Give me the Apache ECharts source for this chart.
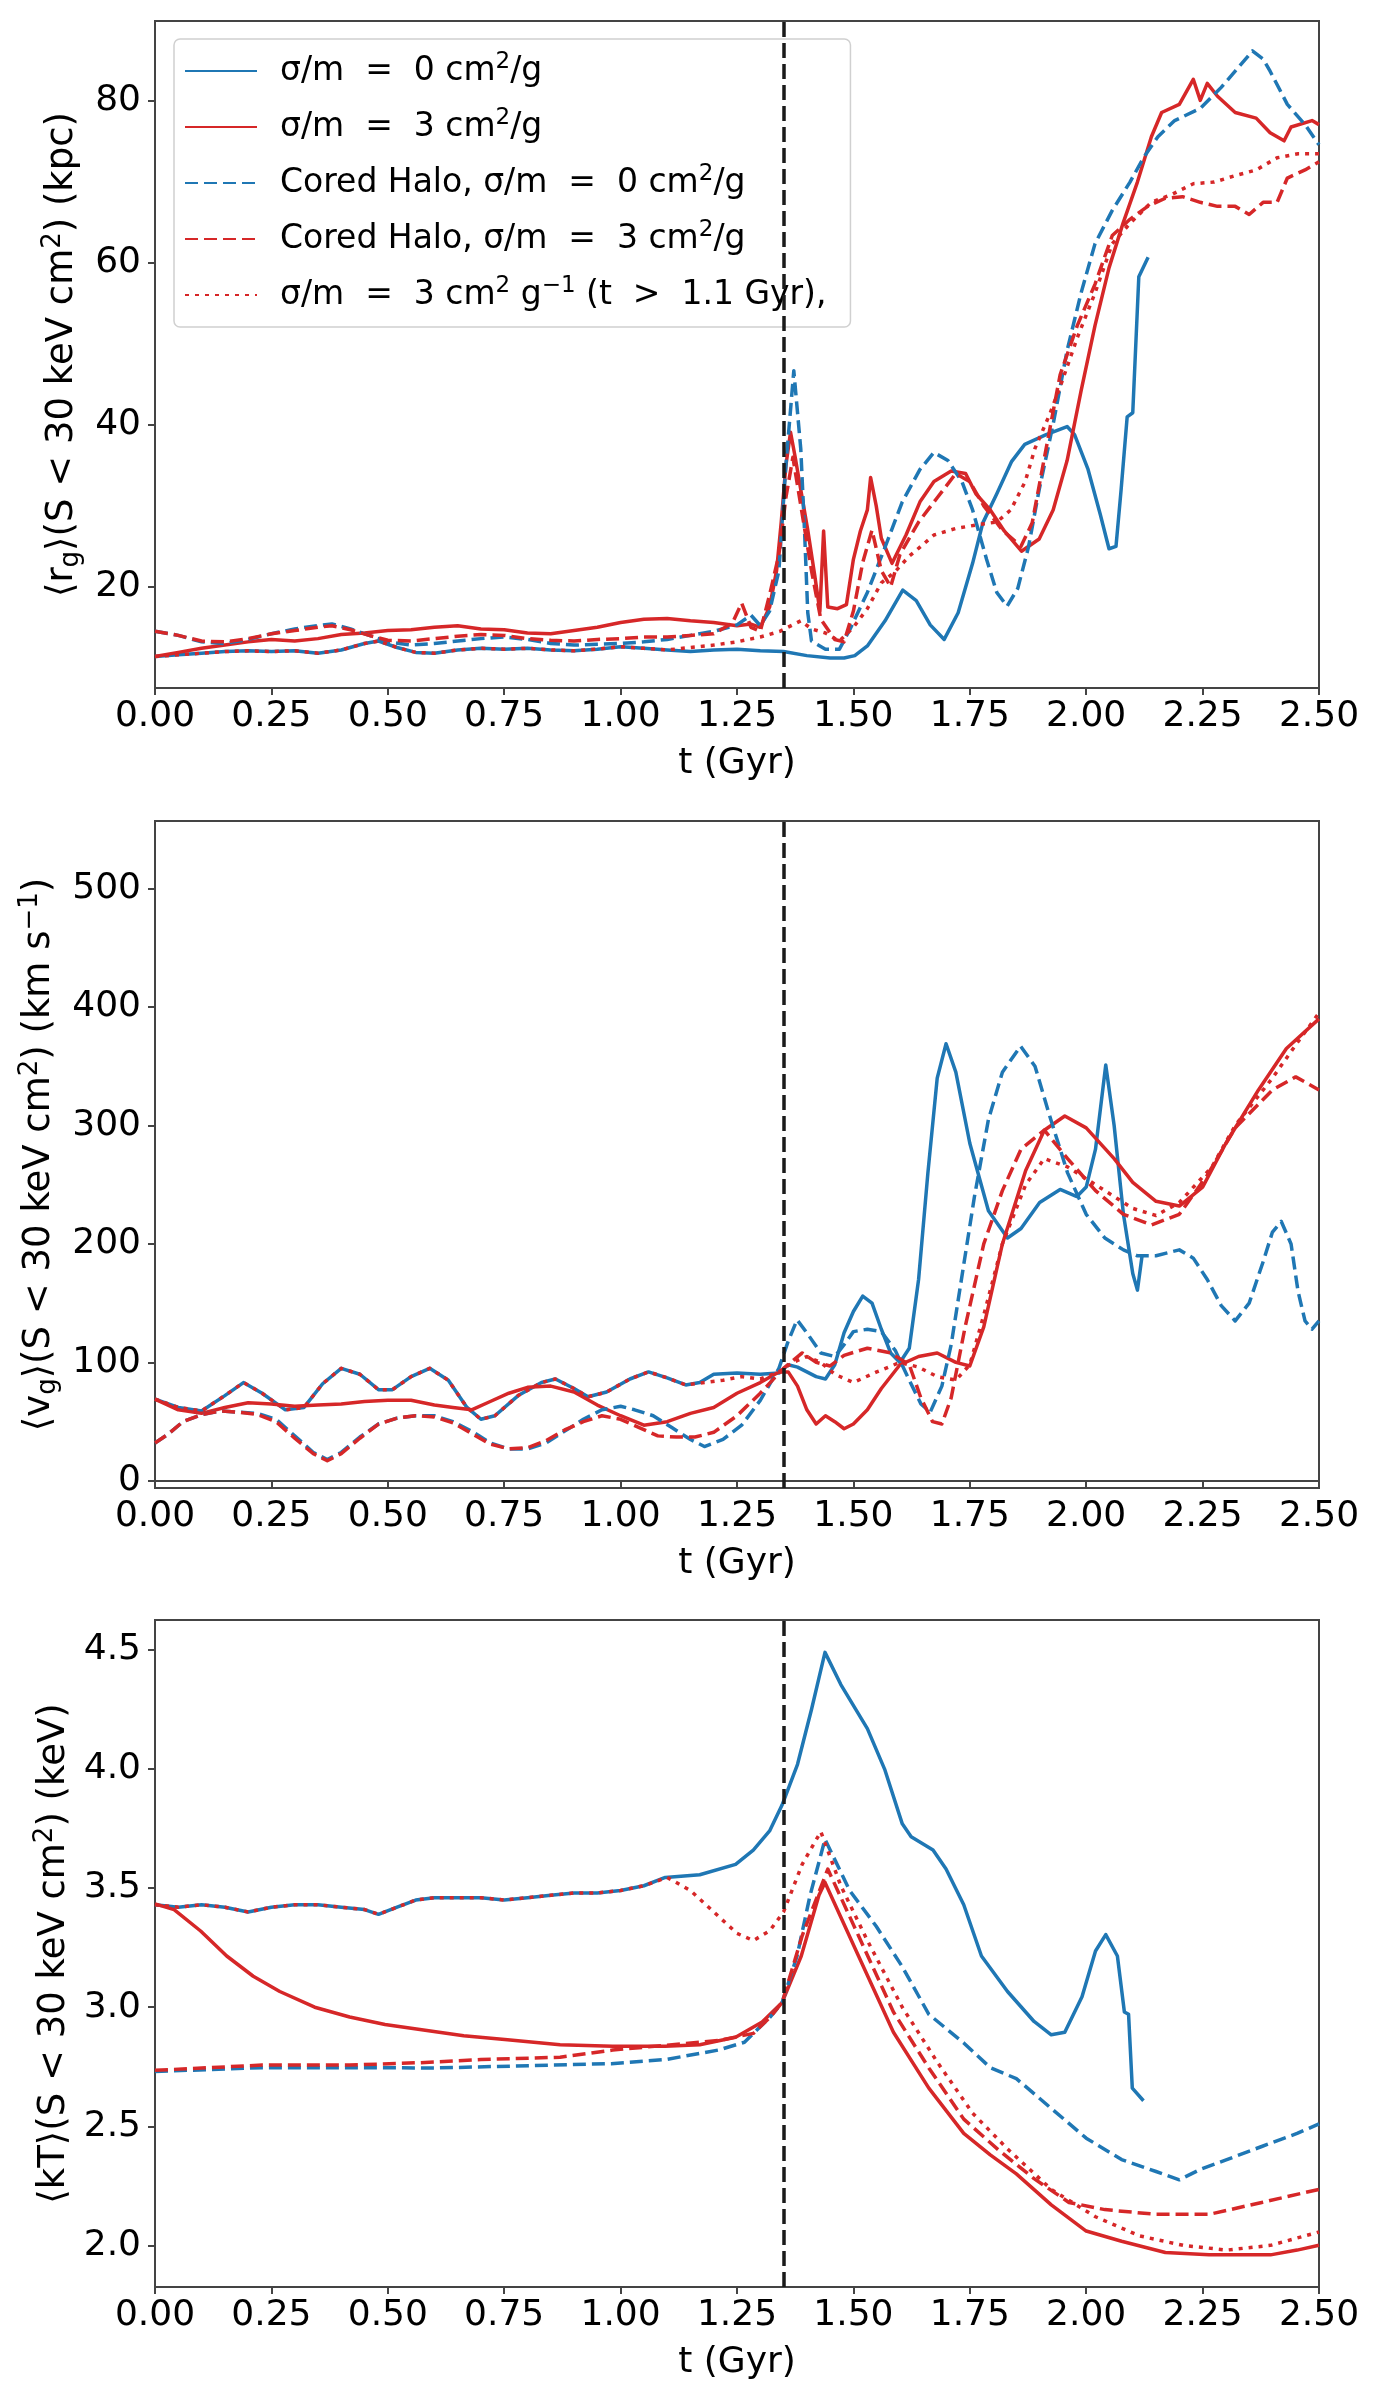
<!DOCTYPE html>
<html>
<head>
<meta charset="utf-8">
<script src="https://cdn.jsdelivr.net/npm/echarts@6/dist/echarts.min.js"></script>
<style>
html,body{margin:0;padding:0;background:#fff;}
#c{width:1375px;height:2396px;}
</style>
</head>
<body>
<div id="c"></div>
<script>
// ---------- DATA ----------
const X_TICK_STEP = 0.25;
const RG_TICKS = [20, 40, 60, 80];
const VG_TICKS = [0, 100, 200, 300, 400, 500];
const KT_TICKS = [2.0, 2.5, 3.0, 3.5, 4.0, 4.5];
const T_CORE_PASSAGE = 1.35;

const NAMES = ['s0', 's3', 'd0', 'd3', 'dot'];

// Panel 1: <r_g> (kpc)
const rg_s0 = [[0,11.4],[0.05,11.6],[0.1,11.8],[0.15,12.0],[0.2,12.1],[0.25,12.0],[0.3,12.1],[0.35,11.8],[0.4,12.2],[0.45,13.0],[0.48,13.3],[0.52,12.5],[0.56,11.9],[0.6,11.8],[0.65,12.2],[0.7,12.4],[0.75,12.3],[0.8,12.4],[0.85,12.2],[0.9,12.1],[0.95,12.3],[1.0,12.6],[1.05,12.4],[1.1,12.2],[1.15,12.0],[1.2,12.2],[1.25,12.3],[1.3,12.1],[1.35,12.0],[1.4,11.5],[1.45,11.2],[1.48,11.2],[1.503,11.5],[1.53,12.7],[1.568,15.8],[1.606,19.6],[1.635,18.3],[1.665,15.3],[1.695,13.5],[1.725,16.8],[1.756,22.9],[1.778,27.9],[1.808,31.5],[1.84,35.5],[1.868,37.6],[1.914,38.8],[1.959,39.8],[1.975,38.8],[2.004,34.5],[2.03,29],[2.049,24.7],[2.064,25],[2.075,32],[2.088,41],[2.1,41.5],[2.113,58.3],[2.133,60.7]];
const rg_s3 = [[0,11.4],[0.05,11.9],[0.1,12.4],[0.15,12.8],[0.2,13.2],[0.25,13.5],[0.3,13.3],[0.35,13.6],[0.4,14.1],[0.45,14.3],[0.5,14.6],[0.55,14.7],[0.6,15.0],[0.65,15.2],[0.7,14.8],[0.75,14.7],[0.8,14.3],[0.85,14.2],[0.9,14.6],[0.95,15.0],[1.0,15.6],[1.05,16.0],[1.1,16.1],[1.15,15.8],[1.2,15.6],[1.25,15.2],[1.28,15.4],[1.3,15.0],[1.32,17.5],[1.335,22],[1.345,28],[1.355,35],[1.365,39.1],[1.375,36],[1.387,32],[1.402,27],[1.417,21.4],[1.428,17],[1.436,26.9],[1.445,17.5],[1.466,17.3],[1.485,17.8],[1.5,23.4],[1.515,26.9],[1.53,29.5],[1.537,33.5],[1.549,30],[1.56,26],[1.583,22.9],[1.613,26.4],[1.643,30.5],[1.673,33],[1.71,34.3],[1.741,34],[1.763,31.5],[1.794,29.5],[1.824,26.9],[1.861,24.4],[1.899,25.9],[1.929,29.5],[1.959,35.6],[1.989,44.2],[2.019,52.3],[2.049,59.4],[2.079,64.9],[2.11,70],[2.14,75.6],[2.162,78.6],[2.2,79.6],[2.23,82.7],[2.245,80.1],[2.26,82.2],[2.282,80.6],[2.32,78.6],[2.365,77.9],[2.395,76.1],[2.425,75.1],[2.44,76.8],[2.485,77.6],[2.5,77.1]];
const rg_d0 = [[0,14.5],[0.05,14.0],[0.1,13.2],[0.15,13.0],[0.2,13.5],[0.25,14.2],[0.3,14.8],[0.35,15.2],[0.38,15.4],[0.42,14.8],[0.46,14.0],[0.5,13.2],[0.55,12.8],[0.6,13.0],[0.65,13.3],[0.7,13.6],[0.75,13.8],[0.8,13.5],[0.85,13.0],[0.9,12.8],[0.95,12.9],[1.0,13.0],[1.05,13.2],[1.1,13.5],[1.15,14.0],[1.2,14.5],[1.25,15.3],[1.28,16.5],[1.3,15.2],[1.32,17],[1.34,22],[1.355,35],[1.372,46.7],[1.387,37],[1.395,27],[1.402,16.8],[1.41,13.3],[1.44,12.3],[1.47,12.3],[1.493,14.8],[1.53,19.3],[1.568,24.9],[1.605,30.5],[1.643,34.5],[1.673,36.6],[1.703,35.6],[1.733,33],[1.756,29.5],[1.786,23.4],[1.808,19.3],[1.83,17.6],[1.853,19.8],[1.876,24.9],[1.899,32],[1.929,40.1],[1.959,49.2],[1.989,56.3],[2.019,62.4],[2.056,66.5],[2.094,70],[2.124,73.1],[2.154,75.6],[2.19,77.6],[2.245,79.1],[2.29,81.7],[2.32,83.7],[2.357,86.2],[2.38,85.2],[2.395,83.7],[2.432,79.6],[2.47,77.1],[2.5,74.6]];
const rg_d3 = [[0,14.5],[0.05,14.0],[0.1,13.3],[0.15,13.2],[0.2,13.6],[0.25,14.2],[0.3,14.6],[0.35,15.0],[0.38,15.2],[0.42,14.7],[0.46,14.0],[0.5,13.4],[0.55,13.3],[0.6,13.6],[0.65,13.9],[0.7,14.1],[0.75,14.0],[0.8,13.6],[0.85,13.4],[0.9,13.3],[0.95,13.5],[1.0,13.6],[1.05,13.8],[1.1,13.8],[1.15,14.0],[1.2,14.2],[1.24,15.5],[1.26,18],[1.28,15],[1.3,14.5],[1.32,19],[1.34,24],[1.355,31],[1.37,36],[1.39,29],[1.41,22],[1.43,16],[1.46,13.5],[1.48,13.2],[1.5,17],[1.52,23],[1.54,27],[1.56,22],[1.58,20],[1.6,24],[1.64,28],[1.68,31],[1.72,34],[1.75,33],[1.78,30],[1.82,27],[1.86,25],[1.884,27.9],[1.914,37.1],[1.944,46.2],[1.981,52.3],[2.019,57.4],[2.056,63.4],[2.094,65.4],[2.132,67.0],[2.17,68.0],[2.207,68.2],[2.245,67.5],[2.282,67.0],[2.32,67.0],[2.35,66.0],[2.38,67.5],[2.41,67.5],[2.432,70.5],[2.47,71.5],[2.5,72.5]];
const rg_dot = [[0,11.4],[0.05,11.6],[0.1,11.8],[0.15,12.0],[0.2,12.1],[0.25,12.0],[0.3,12.1],[0.35,11.8],[0.4,12.2],[0.45,13.0],[0.48,13.3],[0.52,12.5],[0.56,11.9],[0.6,11.8],[0.65,12.2],[0.7,12.4],[0.75,12.3],[0.8,12.4],[0.85,12.2],[0.9,12.1],[0.95,12.3],[1.0,12.6],[1.05,12.4],[1.1,12.2],[1.15,12.5],[1.2,12.8],[1.25,13.2],[1.3,13.8],[1.342,14.5],[1.387,15.8],[1.41,14.8],[1.44,14.3],[1.47,13.3],[1.5,15.0],[1.53,17.3],[1.56,20.5],[1.59,21.9],[1.62,23.8],[1.643,24.9],[1.673,26.4],[1.719,27.2],[1.77,27.7],[1.808,28.0],[1.838,29.5],[1.869,33.0],[1.89,37.1],[1.92,41.1],[1.944,44.7],[1.981,50.8],[2.019,56.3],[2.056,62.4],[2.094,64.9],[2.14,67.5],[2.185,68.5],[2.23,69.8],[2.275,70],[2.32,70.8],[2.365,71.5],[2.41,73.0],[2.455,73.5],[2.5,73.5]];

// Panel 2: <v_g> (km/s)
const vg_s0 = [[0,69],[0.05,62],[0.1,59],[0.15,72],[0.19,83],[0.23,74],[0.28,60],[0.32,62],[0.36,82],[0.4,95],[0.44,90],[0.48,77],[0.51,77],[0.55,88],[0.59,95],[0.63,85],[0.67,62],[0.7,52],[0.73,55],[0.78,72],[0.83,83],[0.86,86],[0.9,78],[0.93,71],[0.97,75],[1.02,86],[1.06,92],[1.1,87],[1.14,81],[1.17,83],[1.2,90],[1.25,91],[1.3,90],[1.34,91],[1.36,98],[1.38,96],[1.4,92],[1.42,88],[1.44,86],[1.46,98],[1.48,125],[1.5,143],[1.52,156],[1.54,150],[1.56,128],[1.58,108],[1.6,100],[1.62,112],[1.64,170],[1.66,260],[1.68,340],[1.699,369],[1.72,345],[1.75,285],[1.79,228],[1.831,205],[1.86,213],[1.9,235],[1.944,246],[1.98,240],[2.0,248],[2.02,280],[2.042,351],[2.06,300],[2.08,225],[2.1,175],[2.11,161],[2.12,190]];
const vg_s3 = [[0,69],[0.05,60],[0.1,57],[0.15,62],[0.2,66],[0.25,65],[0.3,63],[0.35,64],[0.4,65],[0.45,67],[0.5,68],[0.55,68],[0.6,64],[0.64,62],[0.68,60],[0.72,67],[0.76,74],[0.8,79],[0.85,80],[0.9,75],[0.95,64],[1.0,55],[1.05,47],[1.1,50],[1.15,57],[1.2,62],[1.25,74],[1.3,83],[1.34,92],[1.36,92],[1.38,80],[1.4,60],[1.42,48],[1.44,55],[1.46,50],[1.48,44],[1.5,48],[1.53,60],[1.56,78],[1.6,98],[1.64,105],[1.68,108],[1.72,100],[1.75,97],[1.78,130],[1.82,200],[1.87,262],[1.91,296],[1.954,308],[2.0,298],[2.06,272],[2.1,252],[2.15,236],[2.2,232],[2.25,248],[2.3,285],[2.37,330],[2.43,365],[2.5,390]];
const vg_d0 = [[0,32],[0.03,40],[0.06,50],[0.1,56],[0.14,59],[0.18,58],[0.22,57],[0.26,52],[0.3,38],[0.34,24],[0.37,18],[0.4,24],[0.44,37],[0.48,48],[0.52,53],[0.56,55],[0.6,55],[0.64,50],[0.68,42],[0.72,32],[0.76,27],[0.8,27],[0.84,32],[0.88,42],[0.92,52],[0.96,60],[1.0,63],[1.03,60],[1.07,55],[1.11,45],[1.15,35],[1.18,29],[1.22,35],[1.26,47],[1.3,68],[1.34,95],[1.36,118],[1.379,136],[1.4,125],[1.43,108],[1.46,105],[1.48,115],[1.5,126],[1.53,128],[1.56,126],[1.59,110],[1.62,85],[1.645,65],[1.665,58],[1.69,80],[1.71,115],[1.73,165],[1.76,240],[1.79,305],[1.82,345],[1.859,367],[1.89,350],[1.92,310],[1.96,260],[2.0,225],[2.04,205],[2.08,195],[2.11,190],[2.15,190],[2.2,195],[2.23,188],[2.26,170],[2.29,148],[2.32,135],[2.35,150],[2.38,185],[2.4,210],[2.419,219],[2.44,200],[2.455,160],[2.47,135],[2.485,128],[2.5,135]];
const vg_d3 = [[0,32],[0.03,40],[0.06,50],[0.1,56],[0.14,59],[0.18,58],[0.22,56],[0.26,50],[0.3,36],[0.34,23],[0.37,17],[0.4,23],[0.44,36],[0.48,48],[0.52,53],[0.56,55],[0.6,54],[0.64,49],[0.68,40],[0.72,31],[0.76,27],[0.8,28],[0.84,34],[0.88,43],[0.92,50],[0.96,55],[1.0,52],[1.04,45],[1.08,38],[1.12,37],[1.16,37],[1.2,41],[1.25,55],[1.3,74],[1.35,95],[1.39,108],[1.42,100],[1.45,97],[1.48,106],[1.53,112],[1.58,108],[1.62,98],[1.645,70],[1.67,50],[1.69,48],[1.71,70],[1.74,130],[1.78,200],[1.82,245],[1.86,280],[1.91,296],[1.96,272],[2.02,245],[2.08,225],[2.14,216],[2.2,225],[2.26,258],[2.32,298],[2.4,330],[2.45,341],[2.5,330]];
const vg_dot = [[0,69],[0.05,62],[0.1,59],[0.15,72],[0.19,83],[0.23,74],[0.28,60],[0.32,62],[0.36,82],[0.4,95],[0.44,90],[0.48,77],[0.51,77],[0.55,88],[0.59,95],[0.63,85],[0.67,62],[0.7,52],[0.73,55],[0.78,72],[0.83,83],[0.86,86],[0.9,78],[0.93,71],[0.97,75],[1.02,86],[1.06,92],[1.1,87],[1.14,81],[1.18,83],[1.22,85],[1.26,88],[1.3,86],[1.34,92],[1.37,100],[1.4,105],[1.43,100],[1.46,90],[1.5,83],[1.55,92],[1.6,100],[1.64,96],[1.68,88],[1.72,85],[1.75,98],[1.78,140],[1.82,200],[1.87,250],[1.91,272],[1.96,265],[2.02,250],[2.1,230],[2.15,224],[2.2,235],[2.27,265],[2.32,300],[2.4,340],[2.45,368],[2.5,395]];

// Panel 3: <kT> (keV)
const kt_s0 = [[0,3.43],[0.05,3.42],[0.1,3.43],[0.15,3.42],[0.2,3.40],[0.25,3.42],[0.3,3.43],[0.35,3.43],[0.4,3.42],[0.45,3.41],[0.48,3.39],[0.52,3.42],[0.56,3.45],[0.6,3.46],[0.65,3.46],[0.7,3.46],[0.75,3.45],[0.8,3.46],[0.85,3.47],[0.9,3.48],[0.95,3.48],[1.0,3.49],[1.05,3.51],[1.096,3.545],[1.17,3.556],[1.247,3.6],[1.285,3.66],[1.32,3.74],[1.347,3.85],[1.38,4.02],[1.41,4.25],[1.439,4.49],[1.473,4.355],[1.53,4.17],[1.567,4.0],[1.605,3.77],[1.624,3.716],[1.671,3.66],[1.699,3.58],[1.737,3.43],[1.775,3.215],[1.831,3.066],[1.888,2.94],[1.925,2.884],[1.954,2.895],[1.991,3.044],[2.02,3.236],[2.042,3.305],[2.067,3.215],[2.082,2.98],[2.091,2.97],[2.099,2.66],[2.123,2.607]];
const kt_s3 = [[0,3.434],[0.041,3.41],[0.098,3.32],[0.154,3.215],[0.211,3.13],[0.268,3.066],[0.343,3.0],[0.418,2.959],[0.494,2.927],[0.569,2.906],[0.663,2.88],[0.757,2.863],[0.87,2.842],[0.983,2.836],[1.096,2.836],[1.17,2.842],[1.247,2.874],[1.304,2.938],[1.347,3.02],[1.388,3.215],[1.426,3.47],[1.439,3.524],[1.511,3.215],[1.586,2.895],[1.662,2.66],[1.737,2.47],[1.794,2.38],[1.85,2.30],[1.925,2.17],[2.0,2.06],[2.076,2.017],[2.17,1.97],[2.264,1.96],[2.396,1.96],[2.453,1.98],[2.5,2.0]];
const kt_d0 = [[0,2.73],[0.23,2.746],[0.607,2.745],[0.98,2.763],[1.096,2.78],[1.21,2.82],[1.266,2.853],[1.322,2.96],[1.347,3.02],[1.379,3.215],[1.407,3.47],[1.439,3.705],[1.492,3.49],[1.549,3.34],[1.605,3.17],[1.662,2.97],[1.737,2.85],[1.794,2.746],[1.85,2.70],[1.925,2.575],[2.0,2.45],[2.076,2.36],[2.15,2.31],[2.2,2.275],[2.246,2.32],[2.302,2.36],[2.377,2.415],[2.453,2.47],[2.5,2.51]];
const kt_d3 = [[0,2.735],[0.23,2.757],[0.418,2.757],[0.569,2.767],[0.70,2.78],[0.87,2.79],[0.983,2.82],[1.096,2.84],[1.21,2.86],[1.285,2.89],[1.322,2.96],[1.347,3.02],[1.39,3.3],[1.445,3.58],[1.511,3.3],[1.586,2.98],[1.662,2.745],[1.737,2.53],[1.812,2.4],[1.888,2.28],[1.963,2.18],[2.04,2.15],[2.15,2.13],[2.264,2.13],[2.377,2.18],[2.5,2.235]];
const kt_dot = [[0,3.43],[0.05,3.42],[0.1,3.43],[0.15,3.42],[0.2,3.40],[0.25,3.42],[0.3,3.43],[0.35,3.43],[0.4,3.42],[0.45,3.41],[0.48,3.39],[0.52,3.42],[0.56,3.45],[0.6,3.46],[0.65,3.46],[0.7,3.46],[0.75,3.45],[0.8,3.46],[0.85,3.47],[0.9,3.48],[0.95,3.48],[1.0,3.49],[1.05,3.51],[1.1,3.545],[1.15,3.49],[1.2,3.40],[1.25,3.31],[1.285,3.28],[1.32,3.32],[1.35,3.4],[1.39,3.6],[1.43,3.737],[1.473,3.51],[1.53,3.28],[1.605,3.0],[1.68,2.77],[1.756,2.555],[1.831,2.405],[1.925,2.235],[2.02,2.12],[2.114,2.04],[2.208,2.0],[2.302,1.98],[2.396,2.0],[2.5,2.056]];

// ---------- STYLE ----------
const BLUE = '#1f77b4', RED = '#d62728';
const FONT = 'DejaVu Sans';
const LW = 3.5;
const DASH = [13, 6];
const DOT = [4, 6];

const SERIES_STYLE = {
  s0:  {name: 'σ/m = 0 cm²/g', color: BLUE, type: 'solid'},
  s3:  {name: 'σ/m = 3 cm²/g', color: RED, type: 'solid'},
  d0:  {name: 'Cored Halo, σ/m = 0 cm²/g', color: BLUE, type: DASH},
  d3:  {name: 'Cored Halo, σ/m = 3 cm²/g', color: RED, type: DASH},
  dot: {name: 'σ/m = 3 cm² g⁻¹ (t > 1.1 Gyr),', color: RED, type: DOT}
};
const LEGEND_RICH = {
  s0: '{t|σ/m  =  0 cm}{p|2}{t|/g}',
  s3: '{t|σ/m  =  3 cm}{p|2}{t|/g}',
  d0: '{t|Cored Halo, σ/m  =  0 cm}{p|2}{t|/g}',
  d3: '{t|Cored Halo, σ/m  =  3 cm}{p|2}{t|/g}',
  dot: '{t|σ/m  =  3 cm}{p|2}{t| g}{p|−1}{t| (t  >  1.1 Gyr),}'
};

const PANELS = [
  {data: {s0: rg_s0, s3: rg_s3, d0: rg_d0, d3: rg_d3, dot: rg_dot}, min: 7.5, max: 89.9, ticks: RG_TICKS, fmt: v => String(v),
   label: '{t|⟨r}{s|g}{t|⟩(S < 30 keV cm}{p|2}{t|) (kpc)}', top: 21},
  {data: {s0: vg_s0, s3: vg_s3, d0: vg_d0, d3: vg_d3, dot: vg_dot}, min: -6, max: 557, ticks: VG_TICKS, fmt: v => String(v),
   label: '{t|⟨v}{s|g}{t|⟩(S < 30 keV cm}{p|2}{t|) (km s}{p|−1}{t|)}', top: 821},
  {data: {s0: kt_s0, s3: kt_s3, d0: kt_d0, d3: kt_d3, dot: kt_dot}, min: 1.825, max: 4.626, ticks: KT_TICKS, fmt: v => v.toFixed(1),
   label: '{t|⟨kT⟩(S < 30 keV cm}{p|2}{t|) (keV)}', top: 1620}
];

const AX_COLOR = '#444';
const grids = [], xAxes = [], yAxes = [], series = [];
PANELS.forEach((p, i) => {
  grids.push({left: 155, right: 56, top: p.top, height: 667, show: true, borderColor: AX_COLOR, borderWidth: 2,
              containLabel: false, outerBoundsMode: 'none'});
  xAxes.push({
    type: 'value', gridIndex: i, min: 0, max: 2.5, interval: X_TICK_STEP,
    axisLine: {show: true, lineStyle: {color: AX_COLOR, width: 2}},
    axisTick: {show: true, length: 7, lineStyle: {color: AX_COLOR, width: 2}},
    splitLine: {show: false},
    axisLabel: {fontFamily: FONT, fontSize: 36, color: '#000', margin: 11, formatter: v => v.toFixed(2),
                showMinLabel: true, showMaxLabel: true},
    name: 't (Gyr)', nameLocation: 'middle', nameGap: 58,
    nameTextStyle: {fontFamily: FONT, fontSize: 36, color: '#000'}
  });
  yAxes.push({
    type: 'value', gridIndex: i, min: p.min, max: p.max,
    axisLine: {show: true, lineStyle: {color: AX_COLOR, width: 2}},
    axisTick: {show: true, length: 7, lineStyle: {color: AX_COLOR, width: 2}, customValues: p.ticks},
    splitLine: {show: false},
    axisLabel: {fontFamily: FONT, fontSize: 36, color: '#000', margin: 14, formatter: p.fmt, customValues: p.ticks},
    name: p.label, nameLocation: 'middle', nameRotate: 90, nameGap: 68,
    nameTextStyle: {fontFamily: FONT, fontSize: 37, color: '#000',
      rich: {
        t: {fontFamily: FONT, fontSize: 37, color: '#000', lineHeight: 44},
        s: {fontFamily: FONT, fontSize: 26, color: '#000', lineHeight: 30, verticalAlign: 'bottom'},
        p: {fontFamily: FONT, fontSize: 26, color: '#000', lineHeight: 24, verticalAlign: 'top'}
      }}
  });
  NAMES.forEach(k => {
    const st = SERIES_STYLE[k];
    series.push({
      type: 'line', name: st.name, xAxisIndex: i, yAxisIndex: i,
      data: p.data[k], symbol: 'none', showSymbol: false, smooth: false, animation: false,
      lineStyle: {color: st.color, width: LW, type: st.type, cap: 'butt', join: 'round'},
      itemStyle: {color: st.color}
    });
  });
  series.push({
    type: 'line', name: 'core passage ' + i, xAxisIndex: i, yAxisIndex: i, data: [], symbol: 'none', animation: false,
    markLine: {silent: true, symbol: 'none', animation: false, label: {show: false},
               lineStyle: {color: '#1a1a1a', type: [15, 6], width: 3.5},
               data: [{xAxis: T_CORE_PASSAGE}]}
  });
});

const nameToKey = {};
NAMES.forEach(k => nameToKey[SERIES_STYLE[k].name] = k);

const option = {
  animation: false,
  backgroundColor: '#fff',
  grid: grids,
  xAxis: xAxes,
  yAxis: yAxes,
  legend: {
    show: true, orient: 'vertical', left: 174, top: 39,
    data: NAMES.map(k => SERIES_STYLE[k].name),
    backgroundColor: 'rgba(255,255,255,0.85)', borderColor: '#d0d0d0', borderWidth: 1.5, borderRadius: 6,
    padding: [12, 24, 12, 10],
    itemWidth: 72, itemHeight: 14, itemGap: 16,
    selectedMode: false,
    itemStyle: {opacity: 0},
    formatter: name => LEGEND_RICH[nameToKey[name]],
    textStyle: {fontFamily: FONT, fontSize: 33, color: '#000', lineHeight: 40, padding: [0, 0, 0, 18],
      rich: {
        t: {fontFamily: FONT, fontSize: 33, color: '#000', lineHeight: 40},
        p: {fontFamily: FONT, fontSize: 23, color: '#000', lineHeight: 26, verticalAlign: 'top'}
      }}
  },
  series: series
};

const chart = echarts.init(document.getElementById('c'), null, {renderer: 'canvas', width: 1375, height: 2396});
chart.setOption(option);
</script>
</body>
</html>
